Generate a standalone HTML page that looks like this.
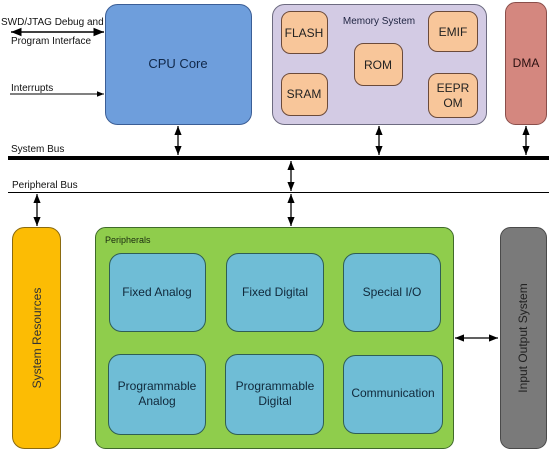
<!DOCTYPE html>
<html><head><meta charset="utf-8"><style>html,body{margin:0;padding:0;background:#fff}svg{display:block}text{font-family:"Liberation Sans",sans-serif}</style></head><body>
<svg width="550" height="450" viewBox="0 0 550 450" xmlns="http://www.w3.org/2000/svg">
<defs>
<marker id="a" viewBox="0 0 10 10" refX="10" refY="5" markerWidth="7" markerHeight="7" orient="auto-start-reverse"><path d="M0,1 L10,5 L0,9 z" fill="#000"/></marker>
</defs>
<!-- CPU -->
<rect x="105.5" y="4.5" width="146" height="120" rx="12" fill="#6e9edc" stroke="#3b5e96"/>
<text x="178" y="68" font-size="13" text-anchor="middle" fill="#10284a">CPU Core</text>
<!-- Memory -->
<rect x="272.5" y="4.5" width="214" height="120" rx="12" fill="#d3cbe4" stroke="#6d6b80"/>
<text x="379" y="24" font-size="10" text-anchor="middle" fill="#1e2340">Memory System</text>
<g fill="#f8c69a" stroke="#6b4a3a">
<rect x="281.5" y="11.5" width="46" height="42" rx="9"/>
<rect x="354.5" y="43.5" width="48" height="42" rx="9"/>
<rect x="428.5" y="11.5" width="49" height="40" rx="9"/>
<rect x="281.5" y="73.5" width="46" height="42" rx="9"/>
<rect x="428.5" y="73.5" width="49" height="44" rx="9"/>
</g>
<g font-size="12" text-anchor="middle" fill="#222">
<text x="304" y="37">FLASH</text>
<text x="378" y="69">ROM</text>
<text x="453" y="36">EMIF</text>
<text x="304" y="98">SRAM</text>
<text x="453" y="92">EEPR</text>
<text x="453" y="107">OM</text>
</g>
<!-- DMA -->
<rect x="505.5" y="2.5" width="41" height="122" rx="10" fill="#d4877f" stroke="#8a4e4a"/>
<text x="526" y="67" font-size="12" text-anchor="middle" fill="#2a1010">DMA</text>
<!-- left labels -->
<text x="1" y="25" font-size="10" fill="#111">SWD/JTAG Debug and</text>
<text x="11" y="44" font-size="10" fill="#111">Program Interface</text>
<line x1="11" y1="32" x2="104" y2="32" stroke="#000" stroke-width="1.5" marker-start="url(#a)" marker-end="url(#a)"/>
<text x="11" y="91" font-size="10" fill="#111">Interrupts</text>
<line x1="10" y1="94" x2="104" y2="94" stroke="#000" stroke-width="1" marker-end="url(#a)"/>
<!-- buses -->
<text x="11" y="152" font-size="10" fill="#111">System Bus</text>
<line x1="8" y1="158" x2="549" y2="158" stroke="#000" stroke-width="4"/>
<text x="12" y="188" font-size="10" fill="#111">Peripheral Bus</text>
<line x1="8" y1="192.5" x2="549" y2="192.5" stroke="#000" stroke-width="1"/>
<g stroke="#000" stroke-width="1.3">
<line x1="178" y1="126" x2="178" y2="155" marker-start="url(#a)" marker-end="url(#a)"/>
<line x1="379" y1="126" x2="379" y2="155" marker-start="url(#a)" marker-end="url(#a)"/>
<line x1="526" y1="126" x2="526" y2="155" marker-start="url(#a)" marker-end="url(#a)"/>
<line x1="291" y1="161" x2="291" y2="191" marker-start="url(#a)" marker-end="url(#a)"/>
<line x1="291" y1="194" x2="291" y2="226" marker-start="url(#a)" marker-end="url(#a)"/>
<line x1="37" y1="194" x2="37" y2="226" marker-start="url(#a)" marker-end="url(#a)"/>
<line x1="455" y1="338" x2="498" y2="338" marker-start="url(#a)" marker-end="url(#a)"/>
</g>
<!-- System resources -->
<rect x="12.5" y="227.5" width="48" height="221" rx="12" fill="#fcbc04" stroke="#8a6a10"/>
<text transform="translate(41,338) rotate(-90)" font-size="12" text-anchor="middle" fill="#333">System Resources</text>
<!-- Peripherals -->
<rect x="95.5" y="227.5" width="358" height="221" rx="10" fill="#8fcd4c" stroke="#3f6a2a"/>
<text x="105" y="243" font-size="9" fill="#1a2a10">Peripherals</text>
<g fill="#6fbdd6" stroke="#2f5e55">
<rect x="109.5" y="253.5" width="96" height="78" rx="12"/>
<rect x="226.5" y="253.5" width="97" height="78" rx="12"/>
<rect x="343.5" y="253.5" width="97" height="78" rx="12"/>
<rect x="108.5" y="354.5" width="97" height="80" rx="12"/>
<rect x="225.5" y="354.5" width="98" height="80" rx="12"/>
<rect x="343.5" y="355.5" width="99" height="78" rx="12"/>
</g>
<g font-size="12" text-anchor="middle" fill="#10283a">
<text x="157" y="296">Fixed Analog</text>
<text x="275" y="296">Fixed Digital</text>
<text x="392" y="296">Special I/O</text>
<text x="157" y="390">Programmable</text>
<text x="157" y="405">Analog</text>
<text x="275" y="390">Programmable</text>
<text x="275" y="405">Digital</text>
<text x="393" y="397">Communication</text>
</g>
<!-- IO -->
<rect x="500.5" y="227.5" width="46" height="221" rx="10" fill="#7a7a7a" stroke="#4a4a4a"/>
<text transform="translate(527,338) rotate(-90)" font-size="12" text-anchor="middle" fill="#222">Input Output System</text>
</svg>
</body></html>
